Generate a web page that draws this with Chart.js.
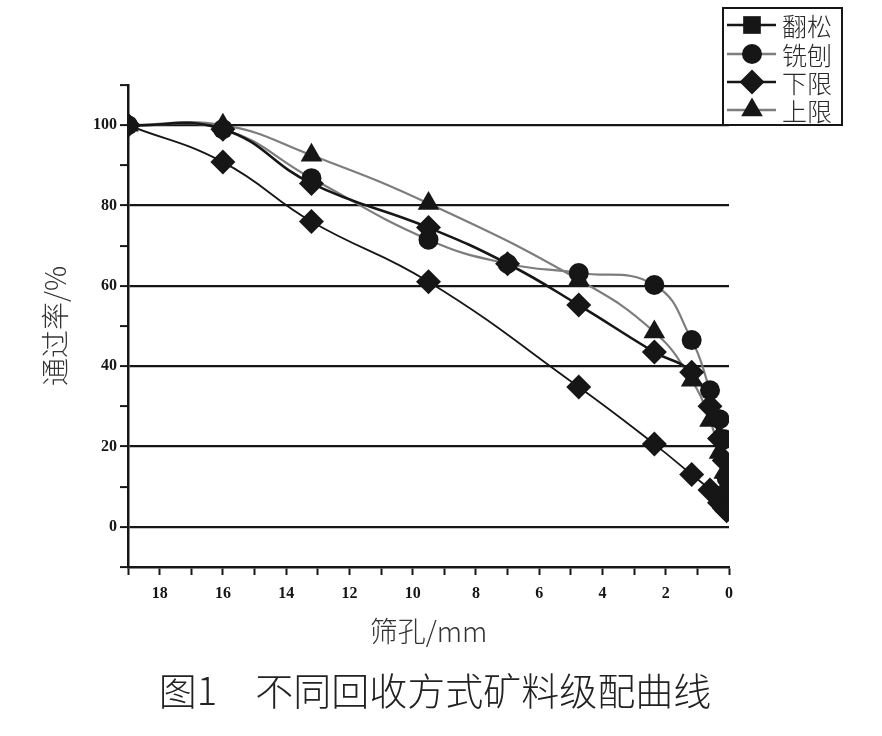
<!DOCTYPE html>
<html><head><meta charset="utf-8">
<script src="https://cdn.jsdelivr.net/npm/chart.js@4.4.1/dist/chart.umd.min.js"></script>
<style>html,body{margin:0;padding:0;background:#fff;}canvas{display:block;}</style>
</head><body>
<canvas id="c" width="882" height="736"></canvas>
<script>
// ---- data ----
const seriesNames = ['翻松', '铣刨', '下限', '上限'];
const sieveMeasured = [19, 16, 13.2, 9.5, 7, 4.75, 2.36, 1.18, 0.6, 0.3, 0.15, 0.075];
const sieveSpec = [19, 16, 13.2, 9.5, 4.75, 2.36, 1.18, 0.6, 0.3, 0.15, 0.075];
const fansong = [100, 99, 85.5, 74.5, 65.5, 55.2, 43.5, 38.5, 30, 22, 16.5, 9];
const xiebao  = [100, 99, 86.8, 71.5, 65.5, 63.2, 60.2, 46.5, 34, 26.8, 21.8, 12.2];
const lowerLimit = [100, 90.8, 76, 61, 34.8, 20.6, 13, 9.2, 6, 4.7, 4];
const upperLimit = [100, 100, 92.5, 80.5, 61.5, 48.5, 36.5, 26.5, 18.5, 13.5, 8.5];
const xTickLabels = [0, 2, 4, 6, 8, 10, 12, 14, 16, 18];
const yTickLabels = [0, 20, 40, 60, 80, 100];

const toXY = (xs, ys) => xs.map((x, i) => ({x: x, y: ys[i]}));

const BLACK = '#161616', GRAY = '#7d7d7d';
const cjk = "'Noto Sans CJK SC', 'Noto Sans', sans-serif";
const num = {family: "'Liberation Serif', 'DejaVu Serif', serif", weight: 'bold', size: 16};

const lineStyles = [
  {color: BLACK, width: 2.6, point: 'rectRot', r: 12.5, legendPoint: 'rect'},
  {color: GRAY, width: 2.2, point: 'circle', r: 10, legendPoint: 'circle'},
  {color: BLACK, width: 1.8, point: 'rectRot', r: 12.5, legendPoint: 'rectRot'},
  {color: GRAY, width: 2.2, point: 'triangle', r: 12.5, legendPoint: 'triangle'}
];
const seriesData = [
  toXY(sieveMeasured, fansong),
  toXY(sieveMeasured, xiebao),
  toXY(sieveSpec, lowerLimit),
  toXY(sieveSpec, upperLimit)
];

function drawMarker(ctx, style, x, y, r) {
  ctx.beginPath();
  if (style === 'rect') {
    const s = r * Math.SQRT1_2;
    ctx.rect(x - s, y - s, 2 * s, 2 * s);
  } else if (style === 'circle') {
    ctx.arc(x, y, r, 0, Math.PI * 2);
  } else if (style === 'rectRot') {
    ctx.moveTo(x - r, y); ctx.lineTo(x, y - r); ctx.lineTo(x + r, y); ctx.lineTo(x, y + r); ctx.closePath();
  } else if (style === 'triangle') {
    for (let k = 0; k < 3; k++) {
      const a = k * 2 * Math.PI / 3;
      const px = x + Math.sin(a) * r, py = y - Math.cos(a) * r;
      k === 0 ? ctx.moveTo(px, py) : ctx.lineTo(px, py);
    }
    ctx.closePath();
  }
  ctx.fillStyle = BLACK;
  ctx.fill();
}

const boxLegend = {
  id: 'boxLegend',
  afterDraw(chart) {
    const ctx = chart.ctx;
    ctx.save();
    const L = 723, T = 8, W = 119, H = 117;
    ctx.lineWidth = 2; ctx.strokeStyle = BLACK;
    ctx.strokeRect(L, T, W, H);
    const rows = [25, 54, 82, 110];
    chart.data.datasets.forEach((ds, i) => {
      const y = rows[i];
      const st = lineStyles[i];
      ctx.beginPath();
      ctx.moveTo(727, y); ctx.lineTo(776, y);
      ctx.lineWidth = 2.4; ctx.strokeStyle = st.color; ctx.stroke();
      drawMarker(ctx, st.legendPoint, 752, y, st.legendPoint === 'circle' ? 10 : 12.5);
      ctx.fillStyle = '#2a2a2a';
      ctx.font = "300 25px " + cjk;
      ctx.textBaseline = 'middle'; ctx.textAlign = 'left';
      ctx.fillText(ds.label, 782, y + 1);
    });
    ctx.restore();
  }
};

new Chart(document.getElementById('c'), {
  type: 'line',
  data: {
    datasets: seriesNames.map((name, i) => ({
      label: name,
      data: seriesData[i],
      borderColor: lineStyles[i].color,
      borderWidth: lineStyles[i].width,
      backgroundColor: BLACK,
      pointBackgroundColor: BLACK,
      pointBorderColor: BLACK,
      pointBorderWidth: 0,
      pointStyle: lineStyles[i].point,
      pointRadius: lineStyles[i].r,
      tension: 0.45,
      fill: false
    }))
  },
  options: {
    responsive: false,
    animation: false,
    devicePixelRatio: 1,
    layout: {padding: {top: 85, right: 12, left: 0, bottom: 23}},
    plugins: {
      legend: {display: false},
      tooltip: {enabled: false},
      title: {
        display: true, position: 'bottom',
        text: '图1\u3000不同回收方式矿料级配曲线',
        font: {family: cjk, size: 38, weight: '300', lineHeight: 1.2},
        color: '#222', padding: {top: 0, bottom: 0}
      }
    },
    scales: {
      x: {
        type: 'linear', reverse: true, min: 0, max: 19,
        afterFit: s => { s.height = 100.4; },
        ticks: {
          stepSize: 1, autoSkip: false, maxRotation: 0, padding: 9,
          callback: v => xTickLabels.includes(v) ? String(v) : '',
          font: num, color: BLACK
        },
        grid: {drawOnChartArea: false, drawTicks: true, tickLength: 8, tickColor: BLACK, tickWidth: 2},
        border: {display: true, color: BLACK, width: 2.5},
        title: {
          display: true, text: '筛孔/mm', color: '#333',
          font: {family: cjk, size: 28, weight: '300', lineHeight: 1.2},
          padding: {top: 0, bottom: 19}
        }
      },
      y: {
        min: -10, max: 110,
        afterFit: s => { s.width = 128; },
        ticks: {
          stepSize: 10, autoSkip: false, padding: 3,
          callback: v => yTickLabels.includes(v) ? String(v) : '',
          font: num, color: BLACK
        },
        grid: {
          color: c => (c.tick && yTickLabels.includes(c.tick.value)) ? BLACK : 'rgba(0,0,0,0)',
          lineWidth: 2.2, tickColor: BLACK, tickLength: 8, tickWidth: 2
        },
        border: {display: true, color: BLACK, width: 2.5},
        title: {
          display: true, text: '通过率/%', color: '#333',
          font: {family: cjk, size: 28, weight: '300', lineHeight: 1.2},
          padding: {top: 39, bottom: 0}
        }
      },
      ySpace: {
        type: 'linear', position: 'right', display: true,
        afterFit: s => { s.width = 141; },
        ticks: {display: false},
        grid: {display: false, drawTicks: false},
        border: {display: false}
      }
    }
  },
  plugins: [boxLegend]
});
</script>
</body></html>
